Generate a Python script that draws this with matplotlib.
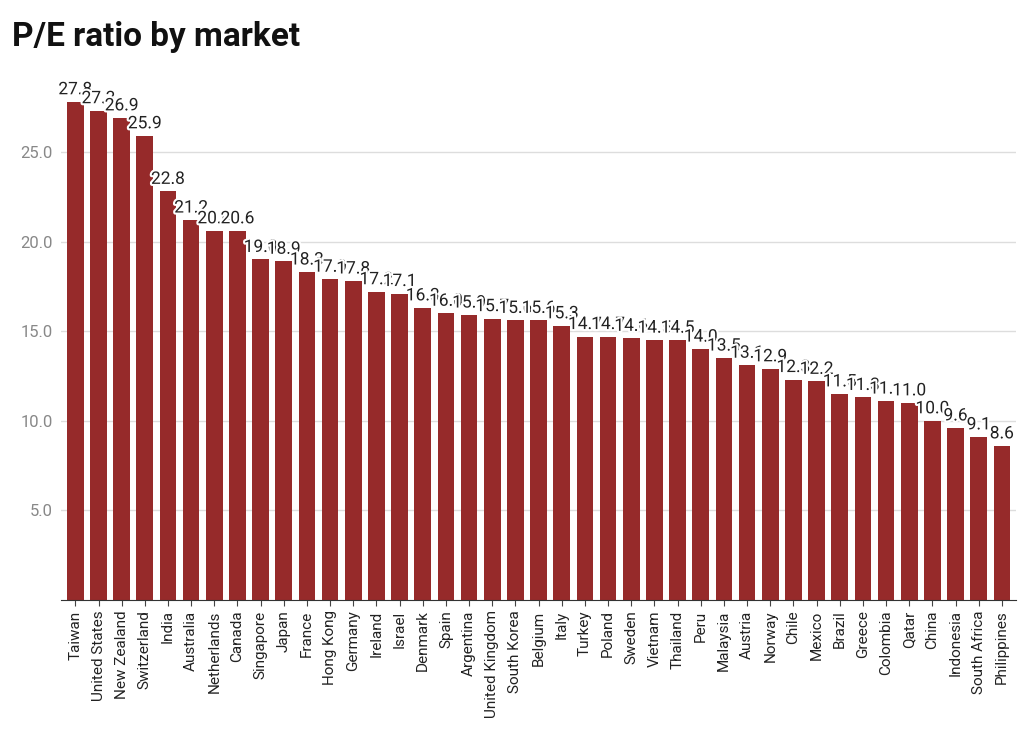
import matplotlib.pyplot as plt
import matplotlib.patheffects as pe

markets = ['Taiwan', 'United States', 'New Zealand', 'Switzerland', 'India', 'Australia',
           'Netherlands', 'Canada', 'Singapore', 'Japan', 'France', 'Hong Kong', 'Germany',
           'Ireland', 'Israel', 'Denmark', 'Spain', 'Argentina', 'United Kingdom',
           'South Korea', 'Belgium', 'Italy', 'Turkey', 'Poland', 'Sweden', 'Vietnam',
           'Thailand', 'Peru', 'Malaysia', 'Austria', 'Norway', 'Chile', 'Mexico', 'Brazil',
           'Greece', 'Colombia', 'Qatar', 'China', 'Indonesia', 'South Africa', 'Philippines']
pe_ratio = [27.8, 27.3, 26.9, 25.9, 22.8, 21.2, 20.6, 20.6, 19.0, 18.9, 18.3, 17.9, 17.8,
            17.2, 17.1, 16.3, 16.0, 15.9, 15.7, 15.6, 15.6, 15.3, 14.7, 14.7, 14.6, 14.5,
            14.5, 14.0, 13.5, 13.1, 12.9, 12.3, 12.2, 11.5, 11.3, 11.1, 11.0, 10.0, 9.6,
            9.1, 8.6]

plt.rcParams['font.family'] = ['Roboto', 'DejaVu Sans']
fig = plt.figure(figsize=(10.24, 7.38), dpi=100)
ax = fig.add_axes([0.06, 0.187, 0.932, 0.68])

x = range(len(markets))
ax.bar(x, pe_ratio, width=0.72, color='#962a2a', zorder=2)
for i, v in zip(x, pe_ratio):
    ax.text(i, v + 0.25, f'{v:.1f}', ha='center', va='bottom', fontsize=12.5, color='#222222',
            zorder=3, clip_on=False,
            path_effects=[pe.withStroke(linewidth=3, foreground='white')])

ax.set_xlim(-0.6, len(markets) - 0.4)
ax.set_ylim(0, 28)
ax.set_yticks([5, 10, 15, 20, 25])
ax.set_yticklabels([f'{t:.1f}' for t in [5, 10, 15, 20, 25]], color='#888888', fontsize=12)
ax.set_xticks(list(x))
ax.set_xticklabels(markets, rotation=90, fontsize=11, color='#222222')
ax.tick_params(axis='y', length=0, pad=6)
ax.tick_params(axis='x', length=4, color='#444444')
ax.grid(axis='y', color='#dddddd', linewidth=1, zorder=0)
for s in ['top', 'right', 'left']:
    ax.spines[s].set_visible(False)
ax.spines['bottom'].set_color('#333333')

fig.text(0.012, 0.937, 'P/E ratio by market', fontsize=24, fontweight='bold', color='#111111')
fig.savefig('out.png', dpi=100)
